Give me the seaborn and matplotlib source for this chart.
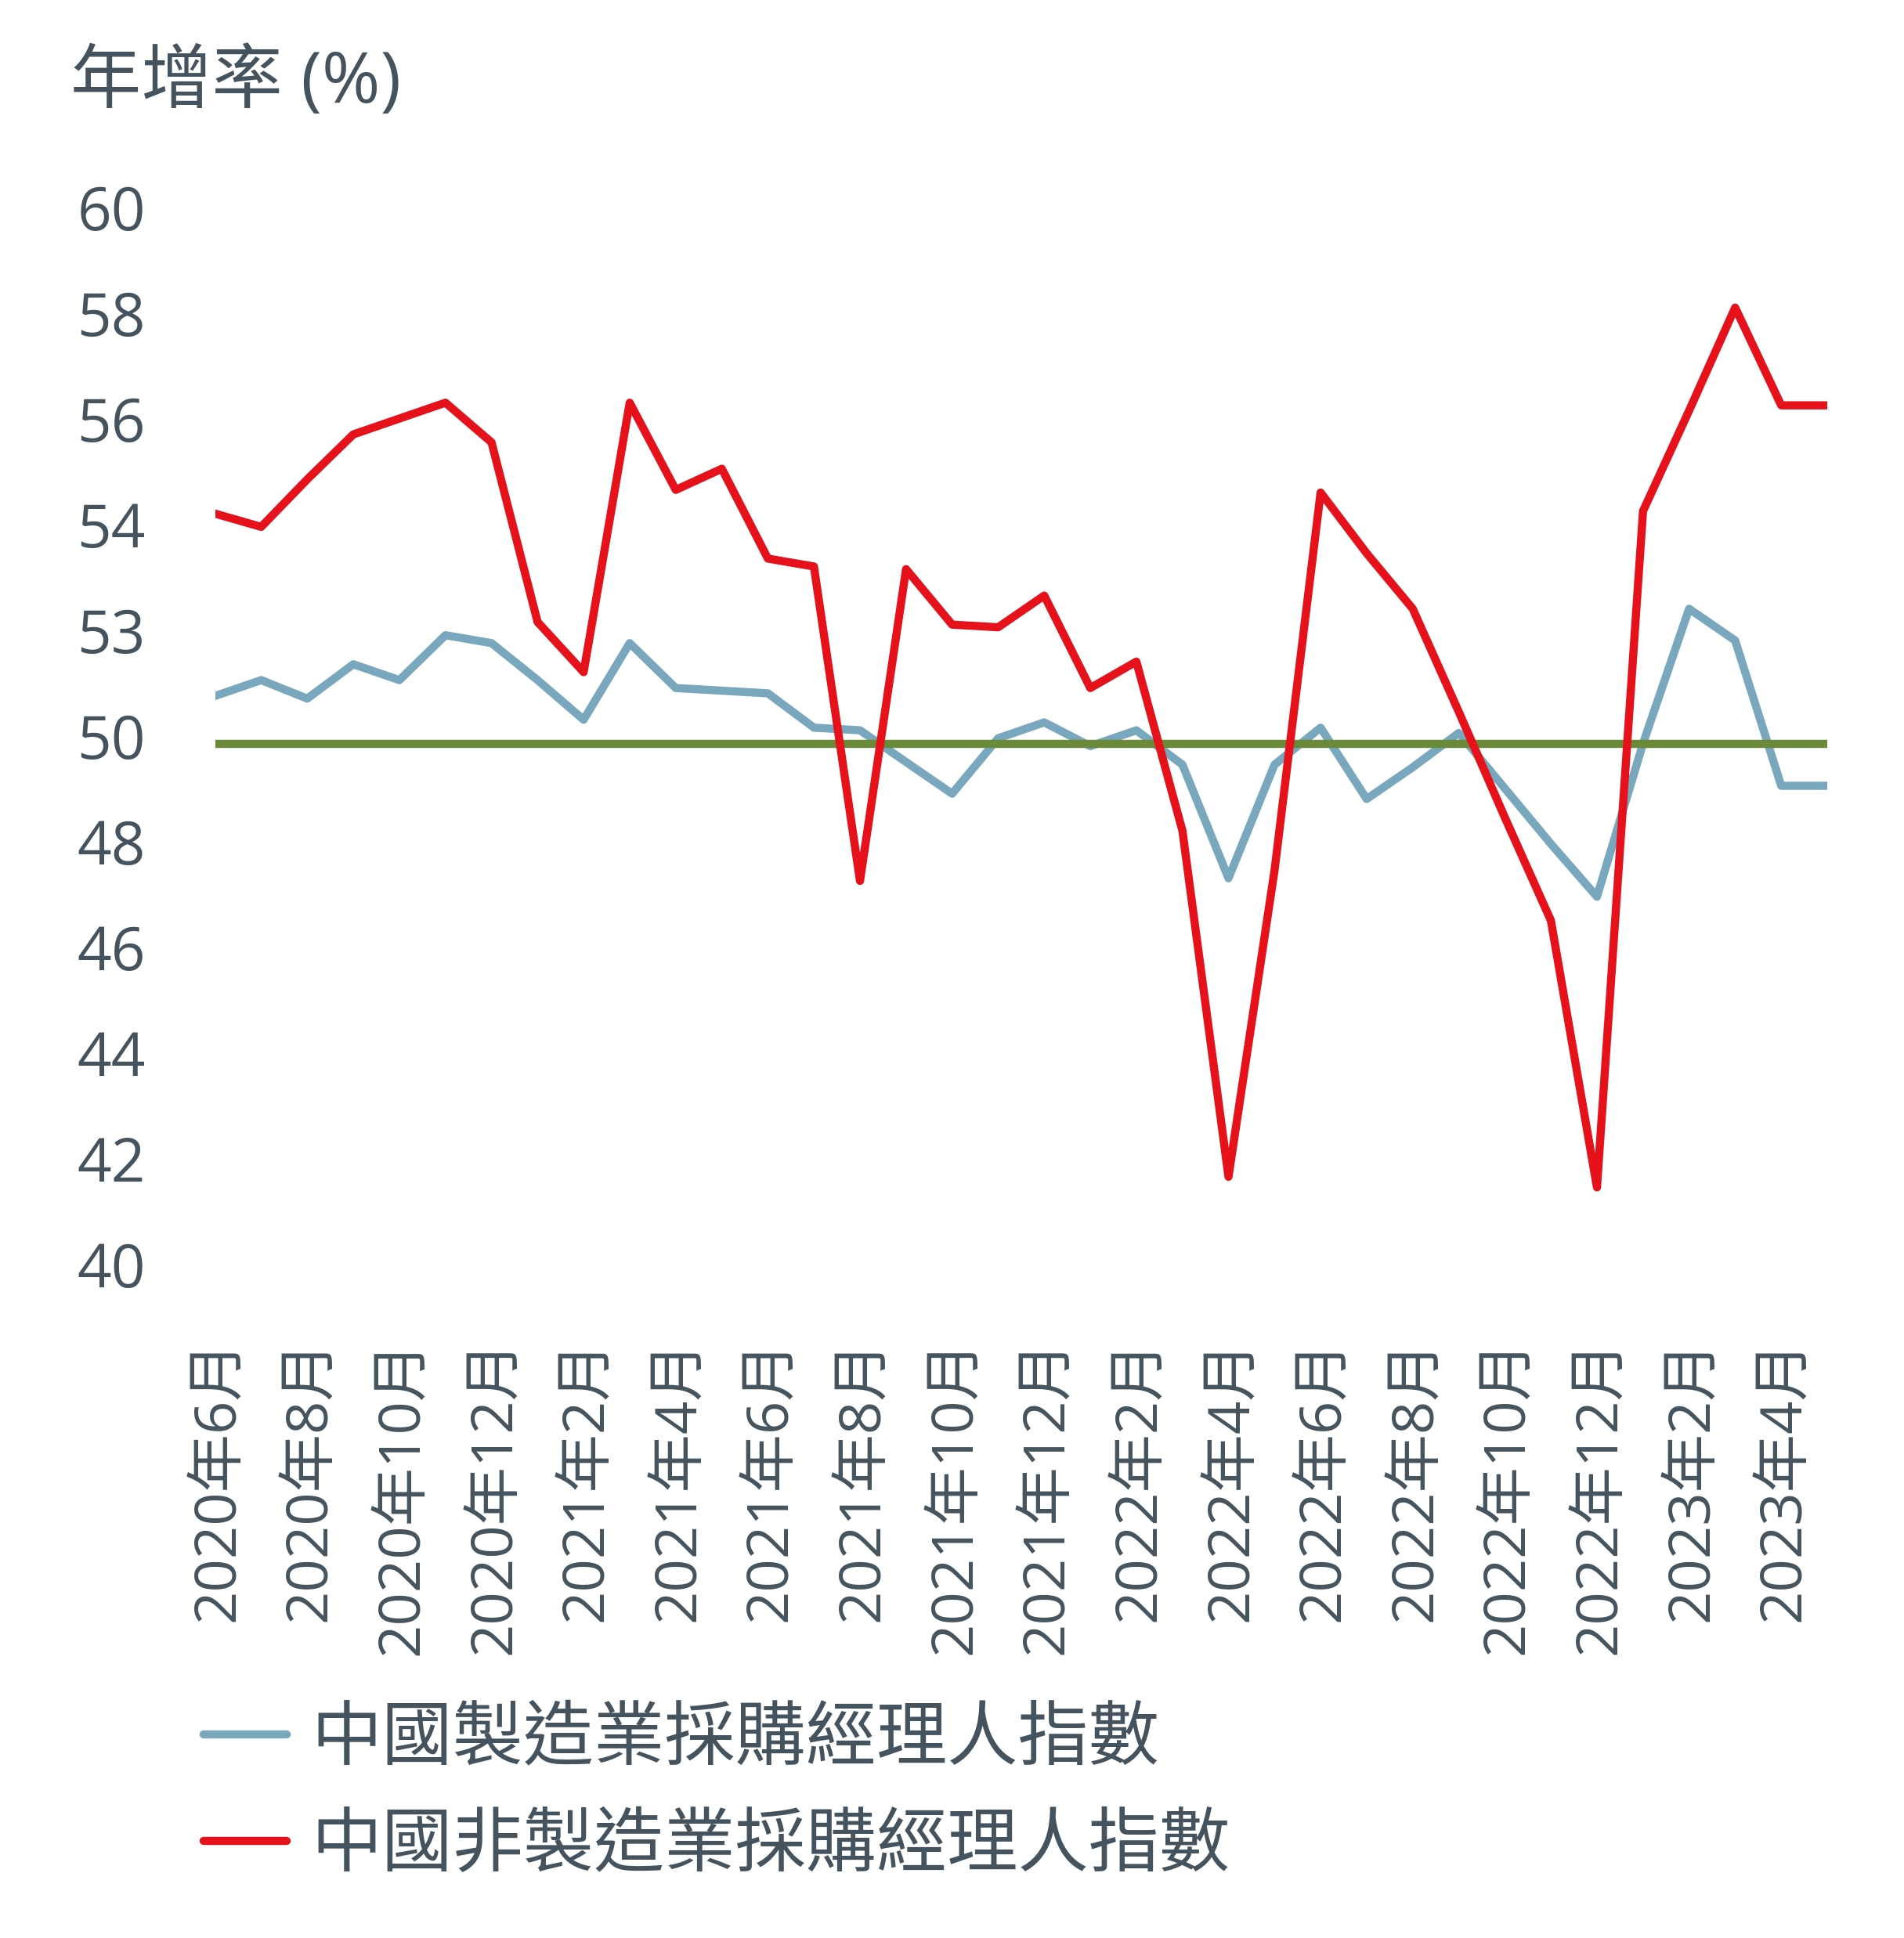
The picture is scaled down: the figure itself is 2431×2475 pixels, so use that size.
import matplotlib
matplotlib.use('Agg')
import matplotlib.pyplot as plt
import matplotlib.transforms as mtransforms
import seaborn as sns
import pandas as pd

# monthly data, 2020-06 .. 2023-05
months = list(pd.date_range('2020-06-01', periods=36, freq='MS').strftime('%Y-%m'))

manufacturing_pmi = [50.9, 51.2, 50.85, 51.5, 51.2, 52.05, 51.9, 51.2, 50.45, 51.9,
                     51.05, 51.0, 50.95, 50.3, 50.25, 49.65, 49.05, 50.1, 50.4, 49.95,
                     50.25, 49.6, 47.45, 49.6, 50.3, 48.95, 49.55, 50.2, 49.15, 48.1,
                     47.1, 50.0, 52.55, 51.95, 49.2, 49.2]

non_manufacturing_pmi = [54.35, 54.1, 55.0, 55.85, 56.15, 56.45, 55.7, 52.3, 51.35, 56.45,
                         54.8, 55.2, 53.5, 53.35, 47.4, 53.3, 52.25, 52.2, 52.8, 51.05,
                         51.55, 48.35, 41.8, 47.6, 54.75, 53.6, 52.55, 50.6, 48.6, 46.65,
                         41.6, 54.4, 56.3, 58.25, 56.4, 56.4]

threshold = 50

x_tick_labels = ['2020年6月', '2020年8月', '2020年10月', '2020年12月', '2021年2月',
                 '2021年4月', '2021年6月', '2021年8月', '2021年10月', '2021年12月',
                 '2022年2月', '2022年4月', '2022年6月', '2022年8月', '2022年10月',
                 '2022年12月', '2023年2月', '2023年4月']
y_tick_values = [40, 42, 44, 46, 48, 50, 52, 54, 56, 58, 60]
y_tick_labels = ['40', '42', '44', '46', '48', '50', '53', '54', '56', '58', '60']

series_names = ['中國製造業採購經理人指數', '中國非製造業採購經理人指數']

BLUE = '#79a7be'
RED = '#e5121c'
GREEN = '#6a8a3a'
TEXT = '#45535e'
LW = 7.5

sns.set_style('white')
plt.rcParams['font.family'] = ['Open Sans', 'Noto Sans CJK TC']
plt.rcParams['text.color'] = TEXT

df = pd.DataFrame({
    'month': months,
    'idx': range(len(months)),
    'mfg': manufacturing_pmi,
    'non_mfg': non_manufacturing_pmi,
})

fig = plt.figure(figsize=(24.31, 24.75), dpi=100)
ax = fig.add_axes([0.113, 0.3437, 0.8467, 0.5453])

sns.lineplot(data=df, x='idx', y='mfg', color=BLUE, linewidth=LW, zorder=2,
             label=series_names[0], ax=ax, legend=False)
ax.axhline(threshold, color=GREEN, linewidth=LW, zorder=3)
sns.lineplot(data=df, x='idx', y='non_mfg', color=RED, linewidth=LW, zorder=4,
             label=series_names[1], ax=ax, legend=False)

ax.set_xlim(0, len(months) - 1)
ax.set_ylim(40, 60)
ax.set_xlabel('')
ax.set_ylabel('')

ax.set_xticks(range(0, len(months) - 1, 2))
ax.set_xticklabels(x_tick_labels, rotation=90, ha='center', va='top',
                   fontsize=53.5, color=TEXT)
ax.set_yticks(y_tick_values)
ax.set_yticklabels(y_tick_labels, fontsize=55, color=TEXT)
ax.tick_params(axis='y', length=0, pad=64)
ax.tick_params(axis='x', length=0, pad=62)
for s in ax.spines.values():
    s.set_visible(False)

# nudge y labels up a little, as in the original
shift_y = mtransforms.ScaledTranslation(0, 0.095, fig.dpi_scale_trans)
for lab in ax.get_yticklabels():
    lab.set_transform(lab.get_transform() + shift_y)
shift_x = mtransforms.ScaledTranslation(0.05, 0, fig.dpi_scale_trans)
for lab in ax.get_xticklabels():
    lab.set_transform(lab.get_transform() + shift_x)

fig.text(0.037, 0.9565, '年增率 (%)', fontsize=65, color=TEXT, ha='left', va='center')

handles = ax.get_lines()
leg = fig.legend([handles[0], handles[2]], series_names, loc='center left',
                 bbox_to_anchor=(0.107, 0.0742), frameon=False, fontsize=65,
                 handlelength=1.17, handletextpad=0.35, labelspacing=0.51,
                 borderpad=0, borderaxespad=0)
for t in leg.get_texts():
    t.set_color(TEXT)

fig.savefig('out.png', dpi=100, facecolor='white')
plt.close(fig)
